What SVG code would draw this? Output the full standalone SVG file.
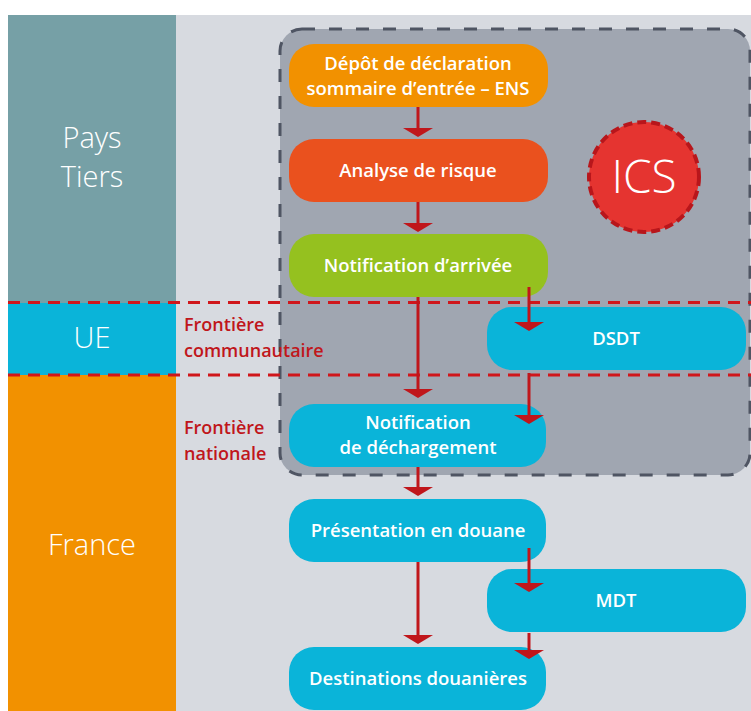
<svg xmlns="http://www.w3.org/2000/svg" width="751" height="711" viewBox="0 0 751 711">
<defs>
<style>
.band{stroke:none}
.node{stroke:none}
.nt{font-family:"Open Sans","Noto Sans","Liberation Sans",sans-serif;font-weight:600;font-size:18.5px;fill:#fff;text-anchor:middle}
.zone{font-family:"Open Sans","Noto Sans","Liberation Sans",sans-serif;font-weight:300;font-size:29px;fill:#fff;text-anchor:middle}
.front{font-family:"Open Sans","Noto Sans","Liberation Sans",sans-serif;font-weight:600;font-size:18px;fill:#C0161B}
.conn{stroke:#C0161B;stroke-width:3;fill:none}
.head{fill:#C0161B}
.border{stroke:#D0161B;stroke-width:3;stroke-dasharray:12 8;fill:none}
</style>
</defs>
<rect x="0" y="0" width="751" height="711" fill="#fff"/>
<rect x="176" y="15" width="575" height="696" fill="#D7DAE0"/>
<g id="zone-pays-tiers">
<rect class="band" x="8" y="15" width="168" height="288" fill="#76A0A6"/>
<text class="zone" x="92" y="148">Pays</text>
<text class="zone" x="92" y="187">Tiers</text>
</g>
<g id="zone-ue">
<rect class="band" x="8" y="303" width="168" height="72" fill="#0AB4D9"/>
<text class="zone" x="92" y="348">UE</text>
</g>
<g id="zone-france">
<rect class="band" x="8" y="375" width="168" height="336" fill="#F29100"/>
<text class="zone" x="92" y="555">France</text>
</g>
<g id="ics-region">
<rect x="280" y="29" width="470" height="446" rx="22" fill="#A0A6B1" stroke="#4F5563" stroke-width="3" stroke-dasharray="13 14"/>
</g>
<g id="frontieres">
<line class="border" x1="8" y1="302.5" x2="751" y2="302.5"/>
<line class="border" x1="8" y1="375" x2="751" y2="375"/>
<text class="front" x="184" y="331">Frontière</text>
<text class="front" x="184" y="357">communautaire</text>
<text class="front" x="184" y="434">Frontière</text>
<text class="front" x="184" y="460">nationale</text>
</g>
<g id="ics">
<circle cx="644" cy="177" r="55" fill="#E53430" stroke="#B8161B" stroke-width="4" stroke-dasharray="9 5"/>
<text x="644" y="193" font-family="'Open Sans','Noto Sans','Liberation Sans',sans-serif" font-weight="300" font-size="46" fill="#fff" text-anchor="middle">ICS</text>
</g>
<g id="node-depot">
<rect class="node" x="289" y="44" width="259" height="63" rx="25" fill="#F29100"/>
<text class="nt" x="418" y="70">Dépôt de déclaration</text>
<text class="nt" x="418" y="95">sommaire d’entrée – ENS</text>
</g>
<g id="node-analyse">
<rect class="node" x="289" y="139" width="259" height="63" rx="25" fill="#EA511E"/>
<text class="nt" x="418" y="177">Analyse de risque</text>
</g>
<g id="node-arrivee">
<rect class="node" x="289" y="234" width="259" height="63" rx="25" fill="#95C11F"/>
<text class="nt" x="418" y="272">Notification d’arrivée</text>
</g>
<g id="node-dsdt">
<rect class="node" x="487" y="307" width="259" height="63" rx="25" fill="#0AB4D9"/>
<text class="nt" x="616" y="345">DSDT</text>
</g>
<g id="node-dechargement">
<rect class="node" x="289" y="404" width="257" height="63" rx="25" fill="#0AB4D9"/>
<text class="nt" x="418" y="429">Notification</text>
<text class="nt" x="418" y="454">de déchargement</text>
</g>
<g id="node-presentation">
<rect class="node" x="289" y="499" width="257" height="63" rx="25" fill="#0AB4D9"/>
<text class="nt" x="418" y="537">Présentation en douane</text>
</g>
<g id="node-mdt">
<rect class="node" x="487" y="569" width="259" height="63" rx="25" fill="#0AB4D9"/>
<text class="nt" x="616" y="607">MDT</text>
</g>
<g id="node-destinations">
<rect class="node" x="289" y="647" width="257" height="63" rx="25" fill="#0AB4D9"/>
<text class="nt" x="418" y="685">Destinations douanières</text>
</g>
<g id="connectors">
<line class="conn" x1="418" y1="107" x2="418" y2="129"/>
<polygon class="head" points="403,128 433,128 418,137"/>
<line class="conn" x1="418" y1="202" x2="418" y2="224"/>
<polygon class="head" points="403,223 433,223 418,232"/>
<line class="conn" x1="418" y1="297" x2="418" y2="390"/>
<polygon class="head" points="403,389 433,389 418,398"/>
<line class="conn" x1="529" y1="287" x2="529" y2="323"/>
<polygon class="head" points="514,322 544,322 529,331"/>
<line class="conn" x1="529" y1="373" x2="529" y2="416"/>
<polygon class="head" points="514,415 544,415 529,424"/>
<line class="conn" x1="418" y1="467" x2="418" y2="488"/>
<polygon class="head" points="403,487 433,487 418,496"/>
<line class="conn" x1="418" y1="562" x2="418" y2="636"/>
<polygon class="head" points="403,635 433,635 418,644"/>
<line class="conn" x1="529" y1="548" x2="529" y2="584"/>
<polygon class="head" points="514,583 544,583 529,592"/>
<line class="conn" x1="529" y1="633" x2="529" y2="651"/>
<polygon class="head" points="514,650 544,650 529,659"/>
</g>
</svg>
